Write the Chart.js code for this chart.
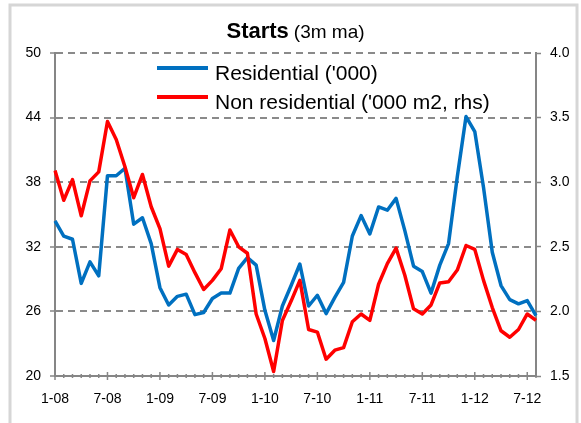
<!DOCTYPE html>
<html lang="en">
<head>
<meta charset="UTF-8">
<title>Starts (3m ma)</title>
<script src="https://cdn.jsdelivr.net/npm/chart.js"></script>
<style>
  html, body { margin: 0; padding: 0; background: #fff; }
  canvas { display: block; }
</style>
</head>
<body>
<canvas id="startsChart" width="581" height="423"></canvas>
<script>
const months = [
  '1-08', '2-08', '3-08', '4-08', '5-08', '6-08', '7-08', '8-08', '9-08', '10-08', '11-08', '12-08',
  '1-09', '2-09', '3-09', '4-09', '5-09', '6-09', '7-09', '8-09', '9-09', '10-09', '11-09', '12-09',
  '1-10', '2-10', '3-10', '4-10', '5-10', '6-10', '7-10', '8-10', '9-10', '10-10', '11-10', '12-10',
  '1-11', '2-11', '3-11', '4-11', '5-11', '6-11', '7-11', '8-11', '9-11', '10-11', '11-11', '12-11',
  '1-12', '2-12', '3-12', '4-12', '5-12', '6-12', '7-12', '8-12'
];
const tickLabels = ['1-08', '7-08', '1-09', '7-09', '1-10', '7-10', '1-11', '7-11', '1-12', '7-12'];

// Residential ('000), left axis
const residential = [
  34.4, 33.0, 32.7, 28.6, 30.6, 29.3, 38.6, 38.6, 39.3, 34.1, 34.7, 32.3,
  28.2, 26.6, 27.4, 27.6, 25.7, 25.9, 27.2, 27.7, 27.7, 30.0, 31.0, 30.3,
  26.1, 23.3, 26.5, 28.4, 30.4, 26.5, 27.5, 25.8, 27.3, 28.7, 33.0, 34.9,
  33.2, 35.7, 35.4, 36.5, 33.5, 30.2, 29.7, 27.7, 30.3, 32.3, 38.5, 44.1,
  42.7, 37.5, 31.5, 28.4, 27.1, 26.7, 27.0, 25.6
];
// Non residential ('000 m2), right axis
const nonResidential = [
  3.09, 2.86, 3.02, 2.74, 3.01, 3.08, 3.47, 3.33, 3.12, 2.88, 3.06, 2.81,
  2.64, 2.35, 2.48, 2.44, 2.30, 2.17, 2.24, 2.33, 2.63, 2.50, 2.45, 1.98,
  1.79, 1.535, 1.93, 2.08, 2.24, 1.86, 1.84, 1.63, 1.70, 1.72, 1.92, 1.98,
  1.93, 2.21, 2.37, 2.49, 2.28, 2.02, 1.98, 2.05, 2.22, 2.23, 2.32, 2.51,
  2.48, 2.24, 2.03, 1.85, 1.80, 1.86, 1.98, 1.93
];
const leftTicks = [20, 26, 32, 38, 44, 50];
const rightTicks = [1.5, 2.0, 2.5, 3.0, 3.5, 4.0];

const axisGray = '#868686';
const gridGray = '#8a8a8a';
const font = 'Liberation Sans, Arial, sans-serif';

const decor = {
  id: 'decor',
  beforeDraw(chart) {
    const { ctx } = chart;
    ctx.save();
    ctx.fillStyle = '#fff';
    ctx.fillRect(0, 0, chart.width, chart.height);
    ctx.strokeStyle = '#d6d6d6';
    ctx.lineWidth = 3;
    ctx.strokeRect(10, 5, 567, 440);
    ctx.restore();
  },
  afterDraw(chart) {
    const { ctx, chartArea } = chart;
    const x = chart.scales.x;
    ctx.save();

    // month ticks on the x axis, longer every six months
    ctx.strokeStyle = axisGray;
    ctx.lineWidth = 1.5;
    x.ticks.forEach((t, i) => {
      const px = x.getPixelForTick(i);
      const h = tickLabels.includes(months[i]) ? 4 : 2;
      ctx.beginPath();
      ctx.moveTo(px, chartArea.bottom - h);
      ctx.lineTo(px, chartArea.bottom + h);
      ctx.stroke();
    });

    // title: bold "Starts" + plain "(3m ma)"
    ctx.fillStyle = '#000';
    ctx.textBaseline = 'alphabetic';
    ctx.textAlign = 'left';
    const boldFont = 'bold 22px ' + font;
    const plainFont = '19px ' + font;
    ctx.font = boldFont;
    const w1 = ctx.measureText('Starts').width;
    ctx.font = plainFont;
    const w2 = ctx.measureText('(3m ma)').width;
    const gap = 5;
    const cx = (chartArea.left + chartArea.right) / 2;
    let tx = cx - (w1 + gap + w2) / 2;
    ctx.font = boldFont;
    ctx.fillText('Starts', tx, 38);
    ctx.font = plainFont;
    ctx.fillText('(3m ma)', tx + w1 + gap, 38);

    // legend inside the plot
    const items = chart.data.datasets.map(ds => ({ label: ds.label, color: ds.borderColor }));
    ctx.font = '21px ' + font;
    items.forEach((it, i) => {
      const ly = 68 + i * 29;
      ctx.strokeStyle = it.color;
      ctx.lineWidth = 4;
      ctx.beginPath();
      ctx.moveTo(157, ly);
      ctx.lineTo(208, ly);
      ctx.stroke();
      ctx.fillText(it.label, 215, ly + 12);
    });
    ctx.restore();
  }
};

new Chart(document.getElementById('startsChart'), {
  type: 'line',
  data: {
    labels: months,
    datasets: [
      {
        label: "Residential ('000)",
        data: residential,
        yAxisID: 'y',
        borderColor: '#0070C0',
        borderWidth: 3.5,
        pointRadius: 0,
        tension: 0,
        borderJoinStyle: 'round',
        order: 2
      },
      {
        label: "Non residential ('000 m2, rhs)",
        data: nonResidential,
        yAxisID: 'y1',
        borderColor: '#FF0000',
        borderWidth: 3.5,
        pointRadius: 0,
        tension: 0,
        borderJoinStyle: 'round',
        order: 1
      }
    ]
  },
  options: {
    responsive: false,
    animation: false,
    devicePixelRatio: 1,
    layout: { padding: { top: 53, left: 0, right: 0, bottom: 0 } },
    plugins: {
      legend: { display: false },
      title: { display: false },
      tooltip: { enabled: false }
    },
    scales: {
      x: {
        type: 'category',
        offset: false,
        afterFit: s => { s.height = 47; },
        grid: { display: false },
        border: { display: true, color: axisGray, width: 2 },
        ticks: {
          autoSkip: false,
          maxRotation: 0,
          padding: 7,
          color: '#000',
          font: { family: font, size: 14 },
          callback: function (v, i) {
            const m = months[i];
            return tickLabels.includes(m) ? m : '';
          }
        }
      },
      y: {
        position: 'left',
        min: 20,
        max: 50,
        afterBuildTicks: s => { s.ticks = leftTicks.map(v => ({ value: v })); },
        afterFit: s => { s.width = 55; },
        grid: {
          color: c => (c.tick && c.tick.value === 20 ? 'rgba(0,0,0,0)' : gridGray),
          lineWidth: 2,
          tickColor: axisGray,
          tickLength: 5,
          tickWidth: 1.5
        },
        border: { display: true, color: axisGray, width: 2, dash: [7, 5] },
        ticks: {
          padding: 9,
          color: '#000',
          font: { family: font, size: 14 },
          callback: v => String(v)
        }
      },
      y1: {
        position: 'right',
        min: 1.5,
        max: 4.0,
        afterBuildTicks: s => { s.ticks = rightTicks.map(v => ({ value: v })); },
        afterFit: s => { s.width = 45; },
        grid: {
          drawOnChartArea: false,
          color: axisGray,
          tickColor: axisGray,
          tickLength: 5,
          tickWidth: 1.5
        },
        border: { display: true, color: axisGray, width: 2 },
        ticks: {
          padding: 9,
          color: '#000',
          font: { family: font, size: 14 },
          callback: v => Number(v).toFixed(1)
        }
      }
    }
  },
  plugins: [decor]
});
</script>
</body>
</html>
